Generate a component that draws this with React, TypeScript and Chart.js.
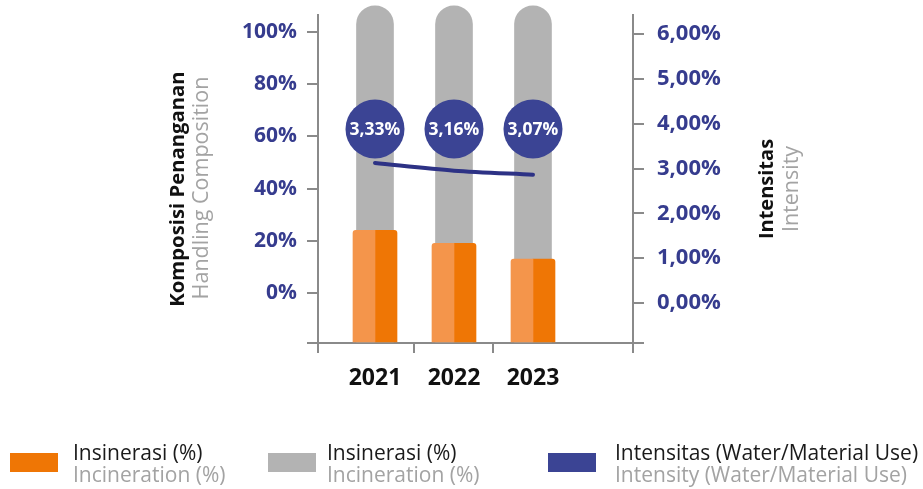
import React, { useEffect, useRef } from 'react';
import { Chart, registerables } from 'chart.js';

Chart.register(...registerables);

// ---- data ----
const YEARS = ['2021', '2022', '2023'];
const INCINERATION_ORANGE = [24, 19, 13];
const INCINERATION_GRAY = [110, 110, 110];
const INTENSITY = [3.33, 3.16, 3.07];
const LEFT_TICKS = [0, 20, 40, 60, 80, 100];
const RIGHT_TICKS = [0, 1, 2, 3, 4, 5, 6];
const LEGEND_ID = ['Insinerasi (%)', 'Insinerasi (%)', 'Intensitas (Water/Material Use)'];
const LEGEND_EN = ['Incineration (%)', 'Incineration (%)', 'Intensity (Water/Material Use)'];
const LEFT_TITLE = ['Komposisi Penanganan', 'Handling Composition'];
const RIGHT_TITLE = ['Intensitas', 'Intensity'];

// ---- styles ----
const FONT = "'Open Sans', sans-serif";
const ORANGE_LIGHT = '#F4954B';
const ORANGE_DARK = '#EF7605';
const GRAY = '#B3B3B3';
const NAVY = '#3B4494';
const LINE_NAVY = '#2D3285';
const TICK_NAVY = '#363C8E';
const AXIS = '#8A8A8A';
const TEXT_GRAY = '#A3A3A3';

const LEFT_MIN = -19.16, LEFT_MAX = 106.5;
const RIGHT_MIN = -0.892, RIGHT_MAX = 6.425;
const LINE_MIN = -0.685, LINE_MAX = 6.632;
const X_MIN = -0.7215, X_MAX = 3.266;

const LEGEND_SWATCH_X = [10, 268, 548];
const LEGEND_TEXT_X = [73, 327, 615];
const LEGEND_COLORS = [ORANGE_DARK, GRAY, NAVY];

const noPad = (s: any) => {
  s.paddingTop = 0;
  s.paddingBottom = 0;
  s.paddingLeft = 0;
  s.paddingRight = 0;
};

const decorPlugin = {
  id: 'decor',
  afterDatasetsDraw(chart: any) {
    const ctx = chart.ctx;
    const xs = chart.scales.x;
    ctx.save();
    INTENSITY.forEach((v, i) => {
      const cx = xs.getPixelForValue(i);
      const cy = chart.chartArea.top + 114;
      ctx.beginPath();
      ctx.arc(cx, cy, 29.5, 0, Math.PI * 2);
      ctx.fillStyle = NAVY;
      ctx.fill();
      ctx.fillStyle = '#ffffff';
      ctx.font = `700 17.5px ${FONT}`;
      ctx.textAlign = 'center';
      ctx.textBaseline = 'middle';
      ctx.fillText(v.toFixed(2).replace('.', ',') + '%', cx, cy + 1);
    });
    ctx.restore();
  },
  afterDraw(chart: any) {
    const ctx = chart.ctx;
    ctx.save();
    const rot = (text: string, x: number, y: number, font: string, color: string) => {
      ctx.save();
      ctx.translate(x, y);
      ctx.rotate(-Math.PI / 2);
      ctx.font = font;
      ctx.fillStyle = color;
      ctx.textAlign = 'center';
      ctx.textBaseline = 'middle';
      ctx.fillText(text, 0, 0);
      ctx.restore();
    };
    rot(LEFT_TITLE[0], 178, 189, `700 20.3px ${FONT}`, '#111111');
    rot(LEFT_TITLE[1], 202, 188, `400 21.5px ${FONT}`, TEXT_GRAY);
    rot(RIGHT_TITLE[0], 767, 189, `700 20px ${FONT}`, '#111111');
    rot(RIGHT_TITLE[1], 792, 189, `400 21.5px ${FONT}`, TEXT_GRAY);

    // legend
    LEGEND_ID.forEach((t, i) => {
      ctx.fillStyle = LEGEND_COLORS[i];
      ctx.fillRect(LEGEND_SWATCH_X[i], 453, 48, 19);
      ctx.textAlign = 'left';
      ctx.textBaseline = 'alphabetic';
      ctx.font = `400 21px ${FONT}`;
      ctx.fillStyle = '#1A1A1A';
      ctx.fillText(t, LEGEND_TEXT_X[i], 460);
      ctx.fillStyle = TEXT_GRAY;
      ctx.fillText(LEGEND_EN[i], LEGEND_TEXT_X[i], 482);
    });
    ctx.restore();
  },
};

export default function App() {
  const ref = useRef<HTMLCanvasElement | null>(null);
  useEffect(() => {
    if (!ref.current) return;
    const pts = (arr: number[]) => arr.map((y, i) => ({ x: i, y }));
    const chart = new Chart(ref.current, {
      type: 'bar',
      data: {
        datasets: [
          {
            label: 'Insinerasi (%) gray',
            data: pts(INCINERATION_GRAY),
            xAxisID: 'xGray',
            yAxisID: 'y',
            backgroundColor: GRAY,
            grouped: false,
            barThickness: 37,
            maxBarThickness: 37,
            borderRadius: 18.5,
            base: LEFT_MIN,
            clip: false as any,
            order: 3,
          } as any,
          {
            label: 'Insinerasi (%) a',
            data: pts(INCINERATION_ORANGE),
            xAxisID: 'x',
            yAxisID: 'y',
            backgroundColor: ORANGE_LIGHT,
            barThickness: 22,
            borderRadius: { topLeft: 3, topRight: 0, bottomLeft: 0, bottomRight: 0 },
            base: LEFT_MIN,
            order: 2,
          } as any,
          {
            label: 'Insinerasi (%) b',
            data: pts(INCINERATION_ORANGE),
            xAxisID: 'x',
            yAxisID: 'y',
            backgroundColor: ORANGE_DARK,
            barThickness: 22,
            borderRadius: { topLeft: 0, topRight: 3, bottomLeft: 0, bottomRight: 0 },
            base: LEFT_MIN,
            order: 2,
          } as any,
          {
            type: 'line',
            label: 'Intensitas',
            data: pts(INTENSITY),
            xAxisID: 'x',
            yAxisID: 'yLine',
            borderColor: LINE_NAVY,
            borderWidth: 4,
            pointRadius: 0,
            tension: 0.3,
            borderCapStyle: 'round',
            order: 1,
          } as any,
        ],
      },
      options: {
        animation: false,
        responsive: true,
        maintainAspectRatio: false,
        layout: { padding: { top: 15, left: 0, right: 0, bottom: 0 } },
        plugins: { legend: { display: false }, tooltip: { enabled: false } },
        scales: {
          x: {
            type: 'linear',
            position: 'bottom',
            offset: false,
            min: X_MIN,
            max: X_MAX,
            afterBuildTicks: (s: any) => {
              s.ticks = [X_MIN, 0, 0.5, 1, 1.5, 2, X_MAX].map((v) => ({ value: v }));
            },
            afterFit: (s: any) => { s.height = 146; noPad(s); },
            ticks: {
              autoSkip: false,
              maxRotation: 0,
              padding: 12,
              color: '#111111',
              font: { family: FONT, size: 23, weight: 'bold' },
              callback: (v: any) => (Number.isInteger(v) ? YEARS[v] : ''),
            },
            grid: {
              offset: false,
              drawOnChartArea: false,
              tickLength: 10,
              lineWidth: 2,
              color: (c: any) => (c.tick && Number.isInteger(c.tick.value) ? 'rgba(0,0,0,0)' : AXIS),
            },
            border: { color: AXIS, width: 2 },
          } as any,
          xGray: {
            type: 'linear',
            display: false,
            offset: false,
            grid: { offset: false },
            min: X_MIN,
            max: X_MAX,
          } as any,
          y: {
            type: 'linear',
            position: 'left',
            min: LEFT_MIN,
            max: LEFT_MAX,
            afterBuildTicks: (s: any) => {
              s.ticks = [LEFT_MIN, ...LEFT_TICKS].map((v) => ({ value: v }));
            },
            afterFit: (s: any) => { s.width = 318; noPad(s); },
            ticks: {
              padding: 10,
              color: TICK_NAVY,
              font: { family: FONT, size: 21, weight: 'bold' },
              callback: (v: any) => (v < 0 ? '' : `${v}%`),
            },
            grid: { drawOnChartArea: false, tickLength: 11, lineWidth: 2, color: AXIS },
            border: { color: AXIS, width: 2 },
          } as any,
          yRight: {
            type: 'linear',
            position: 'right',
            min: RIGHT_MIN,
            max: RIGHT_MAX,
            afterBuildTicks: (s: any) => {
              s.ticks = [RIGHT_MIN, ...RIGHT_TICKS].map((v) => ({ value: v }));
            },
            afterFit: (s: any) => { s.width = 290; noPad(s); },
            ticks: {
              padding: 13,
              color: TICK_NAVY,
              font: { family: FONT, size: 22, weight: 'bold' },
              callback: (v: any) => (v < 0 ? '' : `${Number(v).toFixed(2).replace('.', ',')}%`),
            },
            grid: { drawOnChartArea: false, tickLength: 11, lineWidth: 2, color: AXIS },
            border: { color: AXIS, width: 2 },
          } as any,
          yLine: {
            type: 'linear',
            display: false,
            min: LINE_MIN,
            max: LINE_MAX,
          } as any,
        },
      },
      plugins: [decorPlugin],
    } as any);
    return () => chart.destroy();
  }, []);

  return (
    <div style={{ position: 'absolute', left: 0, top: 0, width: 923, height: 489, background: '#ffffff' }}>
      <canvas ref={ref} />
    </div>
  );
}
